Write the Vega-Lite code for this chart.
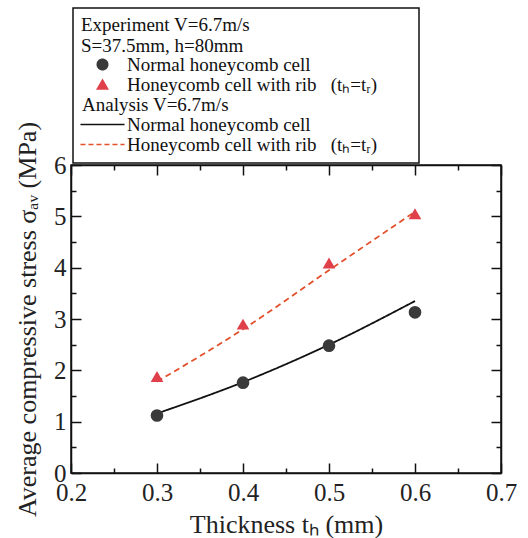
{
  "$schema": "https://vega.github.io/schema/vega-lite/v6.json",
  "width": 430,
  "height": 308,
  "autosize": {"type": "none"},
  "padding": {"left": 71, "top": 165, "right": 27, "bottom": 65},
  "background": "white",
  "config": {
    "font": "Liberation Serif",
    "view": {"stroke": "#111111", "strokeWidth": 1.5},
    "axis": {
      "grid": false,
      "domainColor": "#111111",
      "domainWidth": 1.5,
      "tickColor": "#111111",
      "tickWidth": 1.5,
      "labelFont": "Liberation Serif",
      "labelFontSize": 25,
      "labelColor": "#222222",
      "labelOverlap": false,
      "labelFlush": false,
      "labelBound": false,
      "titleFont": "Liberation Serif",
      "titleFontSize": 26,
      "titleFontWeight": "normal",
      "titleColor": "#222222"
    }
  },
  "datasets": {
    "curves": [
      {"t": 0.3, "sigma": 1.16, "series": "D"},
      {"t": 0.4, "sigma": 1.77, "series": "D"},
      {"t": 0.5, "sigma": 2.5, "series": "D"},
      {"t": 0.6, "sigma": 3.35, "series": "D"},
      {"t": 0.3, "sigma": 1.78, "series": "E"},
      {"t": 0.4, "sigma": 2.8, "series": "E"},
      {"t": 0.5, "sigma": 3.95, "series": "E"},
      {"t": 0.6, "sigma": 5.09, "series": "E"}
    ],
    "points": [
      {"t": 0.3, "sigma": 1.12, "series": "A"},
      {"t": 0.4, "sigma": 1.76, "series": "A"},
      {"t": 0.5, "sigma": 2.48, "series": "A"},
      {"t": 0.6, "sigma": 3.13, "series": "A"},
      {"t": 0.3, "sigma": 1.88, "series": "B"},
      {"t": 0.4, "sigma": 2.9, "series": "B"},
      {"t": 0.5, "sigma": 4.09, "series": "B"},
      {"t": 0.6, "sigma": 5.05, "series": "B"}
    ]
  },
  "layer": [
    {
      "data": {"name": "curves"},
      "mark": {"type": "line", "strokeWidth": 1.8, "interpolate": "monotone"},
      "encoding": {
        "x": {
          "field": "t", "type": "quantitative",
          "scale": {"domain": [0.2, 0.7], "nice": false, "zero": false},
          "axis": {
            "orient": "bottom",
            "values": [0.2, 0.25, 0.3, 0.35, 0.4, 0.45, 0.5, 0.55, 0.6, 0.65, 0.7],
            "labelExpr": "abs(datum.value*10-round(datum.value*10))<0.001 ? format(datum.value,'.1f') : ''",
            "tickSize": {"condition": {"test": "abs(datum.value*10-round(datum.value*10))<0.001", "value": -10}, "value": -5},
            "labelPadding": 17,
            "title": "Thickness tₕ (mm)",
            "titlePadding": 1
          }
        },
        "y": {
          "field": "sigma", "type": "quantitative",
          "scale": {"domain": [0, 6], "nice": false},
          "axis": {
            "orient": "left",
            "values": [0, 0.5, 1, 1.5, 2, 2.5, 3, 3.5, 4, 4.5, 5, 5.5, 6],
            "labelExpr": "datum.value%1===0 ? format(datum.value,'d') : ''",
            "tickSize": {"condition": {"test": "datum.value%1===0", "value": -10}, "value": -5},
            "labelPadding": 15,
            "title": "Average compressive stress σₐᵥ (MPa)",
            "titlePadding": 13
          }
        },
        "color": {
          "field": "series", "type": "nominal",
          "scale": {"domain": ["A", "B", "H", "D", "E"], "range": ["#3a3a3a", "#e0404a", "#ffffff", "#111111", "#e2502c"]},
          "legend": {
            "orient": "none",
            "legendX": 2,
            "legendY": -157,
            "title": ["Experiment V=6.7m/s", "S=37.5mm, h=80mm"],
            "titleFont": "Liberation Serif",
            "titleFontSize": 19,
            "titleFontWeight": "normal",
            "titleColor": "#111111",
            "titleLineHeight": 21,
            "titlePadding": -1,
            "titleLimit": 400,
            "labelFont": "Liberation Serif",
            "labelFontSize": 19,
            "labelColor": "#111111",
            "labelLimit": 450,
            "labelOffset": 15,
            "labelExpr": "datum.value==='A'||datum.value==='D' ? 'Normal honeycomb cell' : datum.value==='H' ? 'Analysis V=6.7m/s' : 'Honeycomb cell with rib\u00a0\u00a0\u00a0(tₕ=tᵣ)\u00a0\u00a0\u00a0\u00a0\u00a0\u00a0\u00a0\u200b'",
            "symbolOffset": 12,
            "symbolSize": 110,
            "symbolStrokeWidth": 1.5,
            "rowPadding": -1,
            "padding": 8,
            "strokeColor": "#111111",
            "fillColor": "white",
            "encode": {
              "legend": {
                "update": {"strokeWidth": {"value": 1.5}}
              },
              "symbols": {
                "update": {
                  "shape": {"signal": "datum.value==='A' ? 'circle' : datum.value==='B' ? 'triangle-up' : 'M-4.2,0H4.2'"},
                  "fill": {"signal": "datum.value==='A' ? '#3a3a3a' : datum.value==='B' ? '#e0404a' : 'transparent'"},
                  "stroke": {"signal": "datum.value==='D' ? '#111111' : datum.value==='E' ? '#e2502c' : 'transparent'"},
                  "strokeDash": {"signal": "datum.value==='E' ? [5,3] : [1,0]"},
                  "opacity": {"value": 1}
                }
              },
              "labels": {
                "update": {
                  "dx": {"signal": "datum.value==='H' ? -45 : 0"}
                }
              }
            }
          }
        },
        "strokeDash": {
          "field": "series", "type": "nominal",
          "scale": {"domain": ["D", "E"], "range": [[1, 0], [6, 4]]},
          "legend": null
        }
      }
    },
    {
      "data": {"name": "points"},
      "mark": {"type": "point", "filled": true, "opacity": 1, "size": 160},
      "encoding": {
        "x": {
          "field": "t", "type": "quantitative",
          "axis": {
            "orient": "top",
            "values": [0.2, 0.25, 0.3, 0.35, 0.4, 0.45, 0.5, 0.55, 0.6, 0.65, 0.7],
            "labels": false,
            "title": null,
            "tickSize": {"condition": {"test": "abs(datum.value*10-round(datum.value*10))<0.001", "value": -10}, "value": -5}
          }
        },
        "y": {
          "field": "sigma", "type": "quantitative",
          "axis": {
            "orient": "right",
            "values": [0, 0.5, 1, 1.5, 2, 2.5, 3, 3.5, 4, 4.5, 5, 5.5, 6],
            "labels": false,
            "title": null,
            "tickSize": {"condition": {"test": "datum.value%1===0", "value": -10}, "value": -5}
          }
        },
        "color": {"field": "series", "type": "nominal"},
        "shape": {
          "field": "series", "type": "nominal",
          "scale": {"domain": ["A", "B"], "range": ["circle", "triangle-up"]},
          "legend": null
        }
      }
    }
  ]
}
